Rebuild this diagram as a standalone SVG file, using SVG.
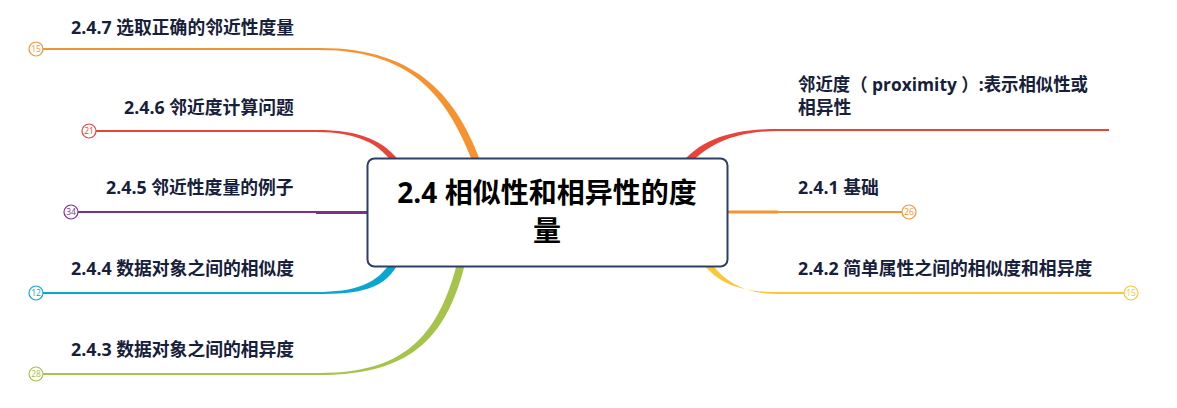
<svg xmlns="http://www.w3.org/2000/svg" width="1177" height="408" viewBox="0 0 1177 408">
<style>
.lbl{font-family:"Open Sans","Noto Sans CJK SC",sans-serif;font-weight:700;font-size:17.8px;fill:#17203a}
.title{font-family:"Open Sans","Noto Sans CJK SC",sans-serif;font-weight:700;font-size:28px;fill:#000;text-anchor:middle}
.badge{fill:#fff;stroke-width:1.2}
.bt{font-family:"Open Sans",sans-serif;font-size:8.5px;text-anchor:middle}
.ln{fill:none;stroke-width:2}
</style>
<rect width="1177" height="408" fill="#fff"/>
<g id="connectors">
  <path class="ln" stroke="#f59331" d="M43,49 H322"/>
  <path fill="#f59331" d="M320,48 C420,48 458,100 482,165 L474,165 C450,104 418,50 320,50 Z"/>
  <path class="ln" stroke="#e9443a" d="M96,131 H318"/>
  <path fill="#e9443a" d="M316,130 C360,130 385,140 402,165 L394,165 C380,144 358,132 316,132 Z"/>
  <path class="ln" stroke="#7e2e8f" d="M78,212 H318"/>
  <path fill="#7e2e8f" d="M316,211 H372 V214 H316 Z"/>
  <path class="ln" stroke="#0aa6cf" d="M43,293 H318"/>
  <path fill="#0aa6cf" d="M316,292 C355,292 378,284 392,260 L400,260 C386,290 360,294 316,294 Z"/>
  <path class="ln" stroke="#a6c34b" d="M43,374 H322"/>
  <path fill="#a6c34b" d="M320,373 C410,373 440,330 458,260 L466,260 C448,334 415,375 320,375 Z"/>
  <path class="ln" stroke="#e9443a" d="M776,130 H1109"/>
  <path fill="#e9443a" d="M778,129 C730,129 700,140 680,165 L689,165 C708,144 735,131 778,131 Z"/>
  <path class="ln" stroke="#f59331" d="M776,212 H902"/>
  <path fill="#f59331" d="M720,210.5 H778 V213.5 H720 Z"/>
  <path class="ln" stroke="#fbc638" d="M776,293 H1124"/>
  <path fill="#fbc638" d="M778,292 C740,292 718,284 700,260 L709,260 C724,282 745,294 778,294 Z"/>
</g>
<g id="center">
  <rect x="367.5" y="158.5" width="360" height="108" rx="7" fill="#fff" stroke="#2e3f66" stroke-width="2"/>
  <text class="title" x="547" y="203">2.4 相似性和相异性的度</text>
  <text class="title" x="547" y="241">量</text>
</g>
<g id="n247">
  <text class="lbl" x="71" y="34">2.4.7 选取正确的邻近性度量</text>
  <circle class="badge" cx="36" cy="49" r="7" stroke="#f59331"/>
  <text class="bt" x="36" y="52" fill="#f59331">15</text>
</g>
<g id="n246">
  <text class="lbl" x="124" y="114">2.4.6 邻近度计算问题</text>
  <circle class="badge" cx="89" cy="131" r="7" stroke="#e9443a"/>
  <text class="bt" x="89" y="134" fill="#e9443a">21</text>
</g>
<g id="n245">
  <text class="lbl" x="106" y="194">2.4.5 邻近性度量的例子</text>
  <circle class="badge" cx="71" cy="212" r="7" stroke="#7e2e8f"/>
  <text class="bt" x="71" y="215" fill="#7e2e8f">34</text>
</g>
<g id="n244">
  <text class="lbl" x="71" y="275">2.4.4 数据对象之间的相似度</text>
  <circle class="badge" cx="36" cy="293" r="7" stroke="#0aa6cf"/>
  <text class="bt" x="36" y="296" fill="#0aa6cf">12</text>
</g>
<g id="n243">
  <text class="lbl" x="71" y="356">2.4.3 数据对象之间的相异度</text>
  <circle class="badge" cx="36" cy="374" r="7" stroke="#a6c34b"/>
  <text class="bt" x="36" y="377" fill="#a6c34b">28</text>
</g>
<g id="nprox">
  <text class="lbl" x="798" y="91" textLength="290" lengthAdjust="spacingAndGlyphs">邻近度（ proximity ）:表示相似性或</text>
  <text class="lbl" x="798" y="114">相异性</text>
</g>
<g id="n241">
  <text class="lbl" x="798" y="194">2.4.1 基础</text>
  <circle class="badge" cx="909" cy="212" r="7" stroke="#f59331"/>
  <text class="bt" x="909" y="215" fill="#f59331">26</text>
</g>
<g id="n242">
  <text class="lbl" x="798" y="275">2.4.2 简单属性之间的相似度和相异度</text>
  <circle class="badge" cx="1131" cy="293" r="7" stroke="#fbc638"/>
  <text class="bt" x="1131" y="296" fill="#fbc638">15</text>
</g>
</svg>
